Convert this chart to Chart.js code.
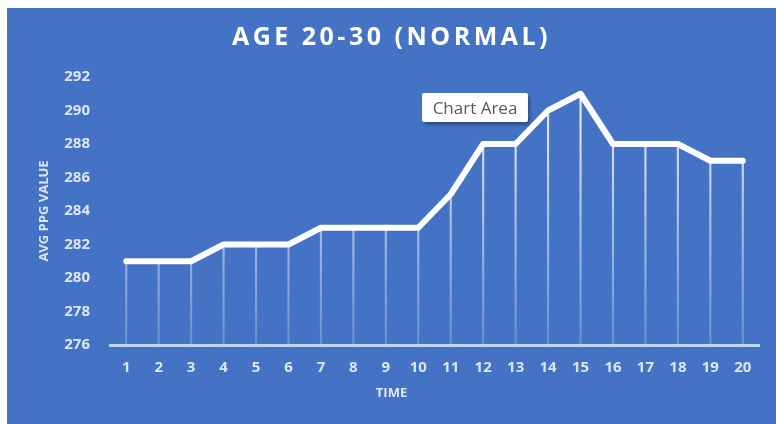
<!DOCTYPE html>
<html>
<head>
<meta charset="utf-8">
<script src="https://cdn.jsdelivr.net/npm/chart.js@4.4.1/dist/chart.umd.min.js"></script>
<style>
    html, body { margin: 0; padding: 0; background: #ffffff; overflow: hidden; }
    #wrap {
        position: absolute; left: 7px; top: 8px;
        width: 790px; height: 430px;
        background: #4472c4;
    }
    #chart { display: block; }
    #tag {
        position: absolute; left: 415px; top: 85px;
        width: 106px; height: 29px;
        background: #ffffff; color: #595959;
        font: 17px "Open Sans", sans-serif;
        line-height: 29px; text-align: center;
        border-radius: 2px;
        box-shadow: 2px 3px 3px rgba(0, 0, 0, 0.3);
    }
</style>
</head>
<body>
<div id="wrap">
    <canvas id="chart" width="769" height="416"></canvas>
    <div id="tag">Chart Area</div>
</div>
<script>
// values
var timeLabels = ['1', '2', '3', '4', '5', '6', '7', '8', '9', '10',
                  '11', '12', '13', '14', '15', '16', '17', '18', '19', '20'];
var ppgValues = [281, 281, 281, 282, 282, 282, 283, 283, 283, 283,
                 285, 288, 288, 290, 291, 288, 288, 288, 287, 287];
var yMin = 276;
var yMax = 292;
var yStep = 2;

var tickColor = '#dce6f4';

function dropLineColor(context) {
    const area = context.chart.chartArea;
    if (!area) return '#ffffff';
    const g = context.chart.ctx.createLinearGradient(0, area.top, 0, area.bottom);
    g.addColorStop(0, 'rgba(255,255,255,0.95)');
    g.addColorStop(1, 'rgba(255,255,255,0.2)');
    return g;
}

// title letters are spread out in the original, chart.js has no option for it
const spacedTitle = {
    id: 'spacedTitle',
    afterLayout(chart) {
        const tb = chart.titleBlock;
        if (!tb || tb._spaced) return;
        const orig = tb.draw.bind(tb);
        tb.draw = function () {
            const c = chart.ctx;
            c.save();
            c.letterSpacing = '3.5px';
            orig();
            c.restore();
        };
        tb._spaced = true;
    }
};

// x axis caption sits under the middle of the whole chart, not the plot area
const timeCaption = {
    id: 'timeCaption',
    afterDraw(chart) {
        const c = chart.ctx;
        c.save();
        c.fillStyle = tickColor;
        c.font = 'bold 13px "Open Sans"';
        c.textAlign = 'center';
        c.textBaseline = 'middle';
        c.fillText('TIME', chart.width / 2, chart.scales.x.bottom - 31);
        c.restore();
    }
};

const ctx = document.getElementById('chart').getContext('2d');
const chart = new Chart(ctx, {
    type: 'line',
    data: {
        labels: timeLabels,
        datasets: [{
            type: 'line',
            label: 'AVG PPG VALUE',
            data: ppgValues,
            borderColor: '#ffffff',
            borderWidth: 6,
            borderJoinStyle: 'round',
            borderCapStyle: 'round',
            pointRadius: 0,
            tension: 0,
            order: 0
        }, {
            type: 'bar',
            label: 'drop lines',
            data: ppgValues,
            base: yMin,
            backgroundColor: dropLineColor,
            barThickness: 1.5,
            order: 1
        }]
    },
    plugins: [spacedTitle, timeCaption],
    options: {
        responsive: false,
        animation: false,
        layout: {
            padding: { left: 17, right: 17, top: 0, bottom: 0 }
        },
        plugins: {
            legend: { display: false },
            tooltip: { enabled: false },
            title: {
                display: true,
                text: 'AGE 20-30 (NORMAL)',
                color: '#ffffff',
                font: { family: 'Open Sans', size: 25, weight: 'bold', lineHeight: 1.2 },
                padding: { top: 15, bottom: 24 }
            }
        },
        scales: {
            x: {
                offset: true,
                grid: { display: true, color: 'transparent', drawTicks: false },
                border: { display: true, color: '#bdd7ee', width: 3 },
                ticks: {
                    color: tickColor,
                    padding: 14,
                    maxRotation: 0,
                    autoSkip: false,
                    font: { family: 'Open Sans', size: 15, weight: 'bold', lineHeight: 1.2 }
                },
                afterFit: function (scale) { scale.height = 79; }
            },
            y: {
                min: yMin,
                max: yMax,
                grid: { display: false, drawTicks: false },
                border: { display: false },
                ticks: {
                    stepSize: yStep,
                    color: tickColor,
                    padding: 20,
                    font: { family: 'Open Sans', size: 15, weight: 'bold' }
                },
                title: {
                    display: true,
                    text: 'AVG PPG VALUE',
                    color: tickColor,
                    font: { family: 'Open Sans', size: 13, weight: 'bold', lineHeight: 1.2 },
                    padding: { top: 12, bottom: 0 }
                },
                afterFit: function (scale) { scale.width = 86; }
            }
        }
    }
});
</script>
</body>
</html>
